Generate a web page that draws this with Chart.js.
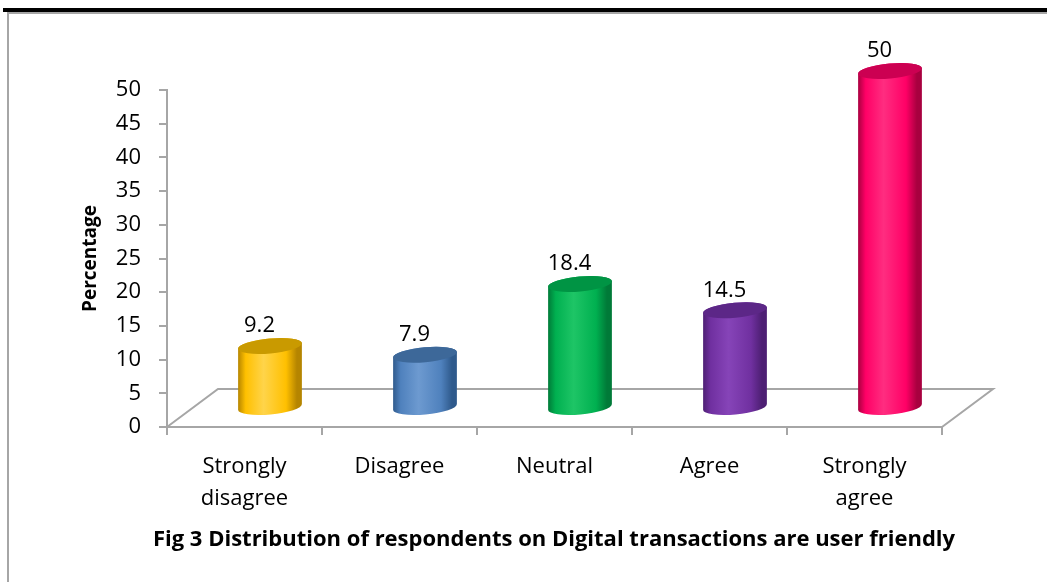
<!DOCTYPE html>
<html>
<head>
<meta charset="utf-8">
<script src="https://cdn.jsdelivr.net/npm/chart.js@4/dist/chart.umd.min.js"></script>
<style>
  html, body { margin: 0; padding: 0; background: #fff; }
  #page { position: relative; width: 1047px; height: 582px; overflow: hidden; }
  #topRule { position: absolute; left: 3px; right: 0; top: 8px; height: 4px; background: #000; }
  #frameTop { position: absolute; left: 8px; right: 0; top: 12px; height: 2px; background: #a6a6a6; }
  #frameLeft { position: absolute; left: 7px; top: 12px; bottom: 0; width: 2px; background: #a6a6a6; }
  #chartBox { position: absolute; left: 0; top: 0; width: 1047px; height: 582px; }
  #caption {
    position: absolute; left: 0; width: 1108px; top: 522px;
    text-align: center; font: bold 22px "Open Sans", sans-serif; color: #000;
  }
</style>
</head>
<body>
<div id="page">
  <div id="topRule"></div>
  <div id="frameTop"></div>
  <div id="frameLeft"></div>
  <div id="chartBox"><canvas id="userFriendlyChart" width="1047" height="582"></canvas></div>
  <div id="caption">Fig 3 Distribution of respondents on Digital transactions are user friendly</div>
</div>

<script>
// --- Data ---
const categories = [['Strongly', 'disagree'], 'Disagree', 'Neutral', 'Agree', ['Strongly', 'agree']];
const percentages = [9.2, 7.9, 18.4, 14.5, 50];
const yTicks = [0, 5, 10, 15, 20, 25, 30, 35, 40, 45, 50];

// cylinder colours: [dark edge, body, highlight, top cap]
const barColors = [
    ['#b58500', '#ffc000', '#ffd44a', '#c99a00'],
    ['#2f5a8c', '#4f81bd', '#6d9ad0', '#3d6899'],
    ['#007a38', '#00b050', '#1ec566', '#009444'],
    ['#4d1f73', '#7030a0', '#8644b8', '#5c2787'],
    ['#a8003f', '#ff0066', '#ff2d80', '#cc0052']
];

// floor depth of the 3d plot area
const DEPTH_X = 51;
const DEPTH_Y = -38;
const TILT = -0.09;
const GRAY = '#a6a6a6';
const FONT = '"Open Sans", sans-serif';

// Floor parallelogram behind the bars
const floorPlugin = {
    id: 'floor',
    beforeDatasetsDraw(chart) {
        const { ctx } = chart;
        const x = chart.scales.x, y = chart.scales.y;
        const y0 = y.getPixelForValue(0);
        ctx.save();
        ctx.strokeStyle = GRAY;
        ctx.lineWidth = 2;
        ctx.beginPath();
        ctx.moveTo(x.left, y0);
        ctx.lineTo(x.left + DEPTH_X, y0 + DEPTH_Y);
        ctx.lineTo(x.right + DEPTH_X, y0 + DEPTH_Y);
        ctx.lineTo(x.right, y0);
        ctx.stroke();
        ctx.restore();
    }
};

// Draw each bar as a shaded cylinder standing in the middle of the floor
const cylinderPlugin = {
    id: 'cylinders',
    afterDatasetsDraw(chart) {
        const { ctx } = chart;
        const meta = chart.getDatasetMeta(0);
        ctx.save();
        meta.data.forEach((bar, i) => {
            const [edge, body, light, cap] = barColors[i];
            const cx = bar.x + DEPTH_X / 2;
            const top = bar.y + DEPTH_Y / 2;
            const base = bar.base + DEPTH_Y / 2;
            const rx = bar.width / 2;
            const ry = 7.5;

            const grad = ctx.createLinearGradient(cx - rx, 0, cx + rx, 0);
            grad.addColorStop(0, edge);
            grad.addColorStop(0.12, body);
            grad.addColorStop(0.4, light);
            grad.addColorStop(0.75, body);
            grad.addColorStop(0.92, edge);
            grad.addColorStop(1, edge);

            ctx.beginPath();
            ctx.ellipse(cx, base, rx, ry, TILT, Math.PI, 0, true);
            ctx.ellipse(cx, top, rx, ry, TILT, 0, Math.PI, true);
            ctx.closePath();
            ctx.fillStyle = grad;
            ctx.fill();

            ctx.beginPath();
            ctx.ellipse(cx, top, rx, ry, TILT, 0, Math.PI * 2);
            ctx.fillStyle = cap;
            ctx.fill();

            // value label
            ctx.fillStyle = '#000';
            ctx.font = '22px ' + FONT;
            ctx.textAlign = 'center';
            ctx.textBaseline = 'middle';
            ctx.fillText(String(percentages[i]), bar.x + 15, top - 20);
        });
        ctx.restore();
    }
};

const ctx = document.getElementById('userFriendlyChart');
new Chart(ctx, {
    type: 'bar',
    data: {
        labels: categories,
        datasets: [{
            data: percentages,
            backgroundColor: 'rgba(0,0,0,0)',
            borderWidth: 0,
            categoryPercentage: 1,
            barPercentage: 0.413
        }]
    },
    options: {
        responsive: false,
        animation: false,
        devicePixelRatio: 1,
        layout: { padding: { top: 90, right: 105, bottom: 0, left: 0 } },
        plugins: {
            legend: { display: false },
            tooltip: { enabled: false }
        },
        scales: {
            x: {
                afterFit(scale) { scale.height = 155; },
                grid: { display: true, drawOnChartArea: false, drawTicks: true, tickLength: 8, color: GRAY, lineWidth: 2, offset: true },
                border: { display: true, color: GRAY, width: 2 },
                ticks: { color: '#000', font: { family: FONT, size: 22, lineHeight: 1.45 }, padding: 16, maxRotation: 0 }
            },
            y: {
                min: 0,
                max: 50,
                afterFit(scale) { scale.width = 167; },
                afterBuildTicks(scale) { scale.ticks = yTicks.map(v => ({ value: v })); },
                grid: { display: true, drawOnChartArea: false, drawTicks: true, tickLength: 8, color: GRAY, lineWidth: 2 },
                border: { display: true, color: GRAY, width: 2 },
                ticks: { color: '#000', font: { family: FONT, size: 22 }, padding: 18 },
                title: {
                    display: true,
                    text: 'Percentage',
                    color: '#000',
                    font: { family: FONT, size: 19, weight: 'bold', lineHeight: 1.2 },
                    padding: { top: 79, bottom: 0 }
                }
            }
        }
    },
    plugins: [floorPlugin, cylinderPlugin]
});
</script>
</body>
</html>
